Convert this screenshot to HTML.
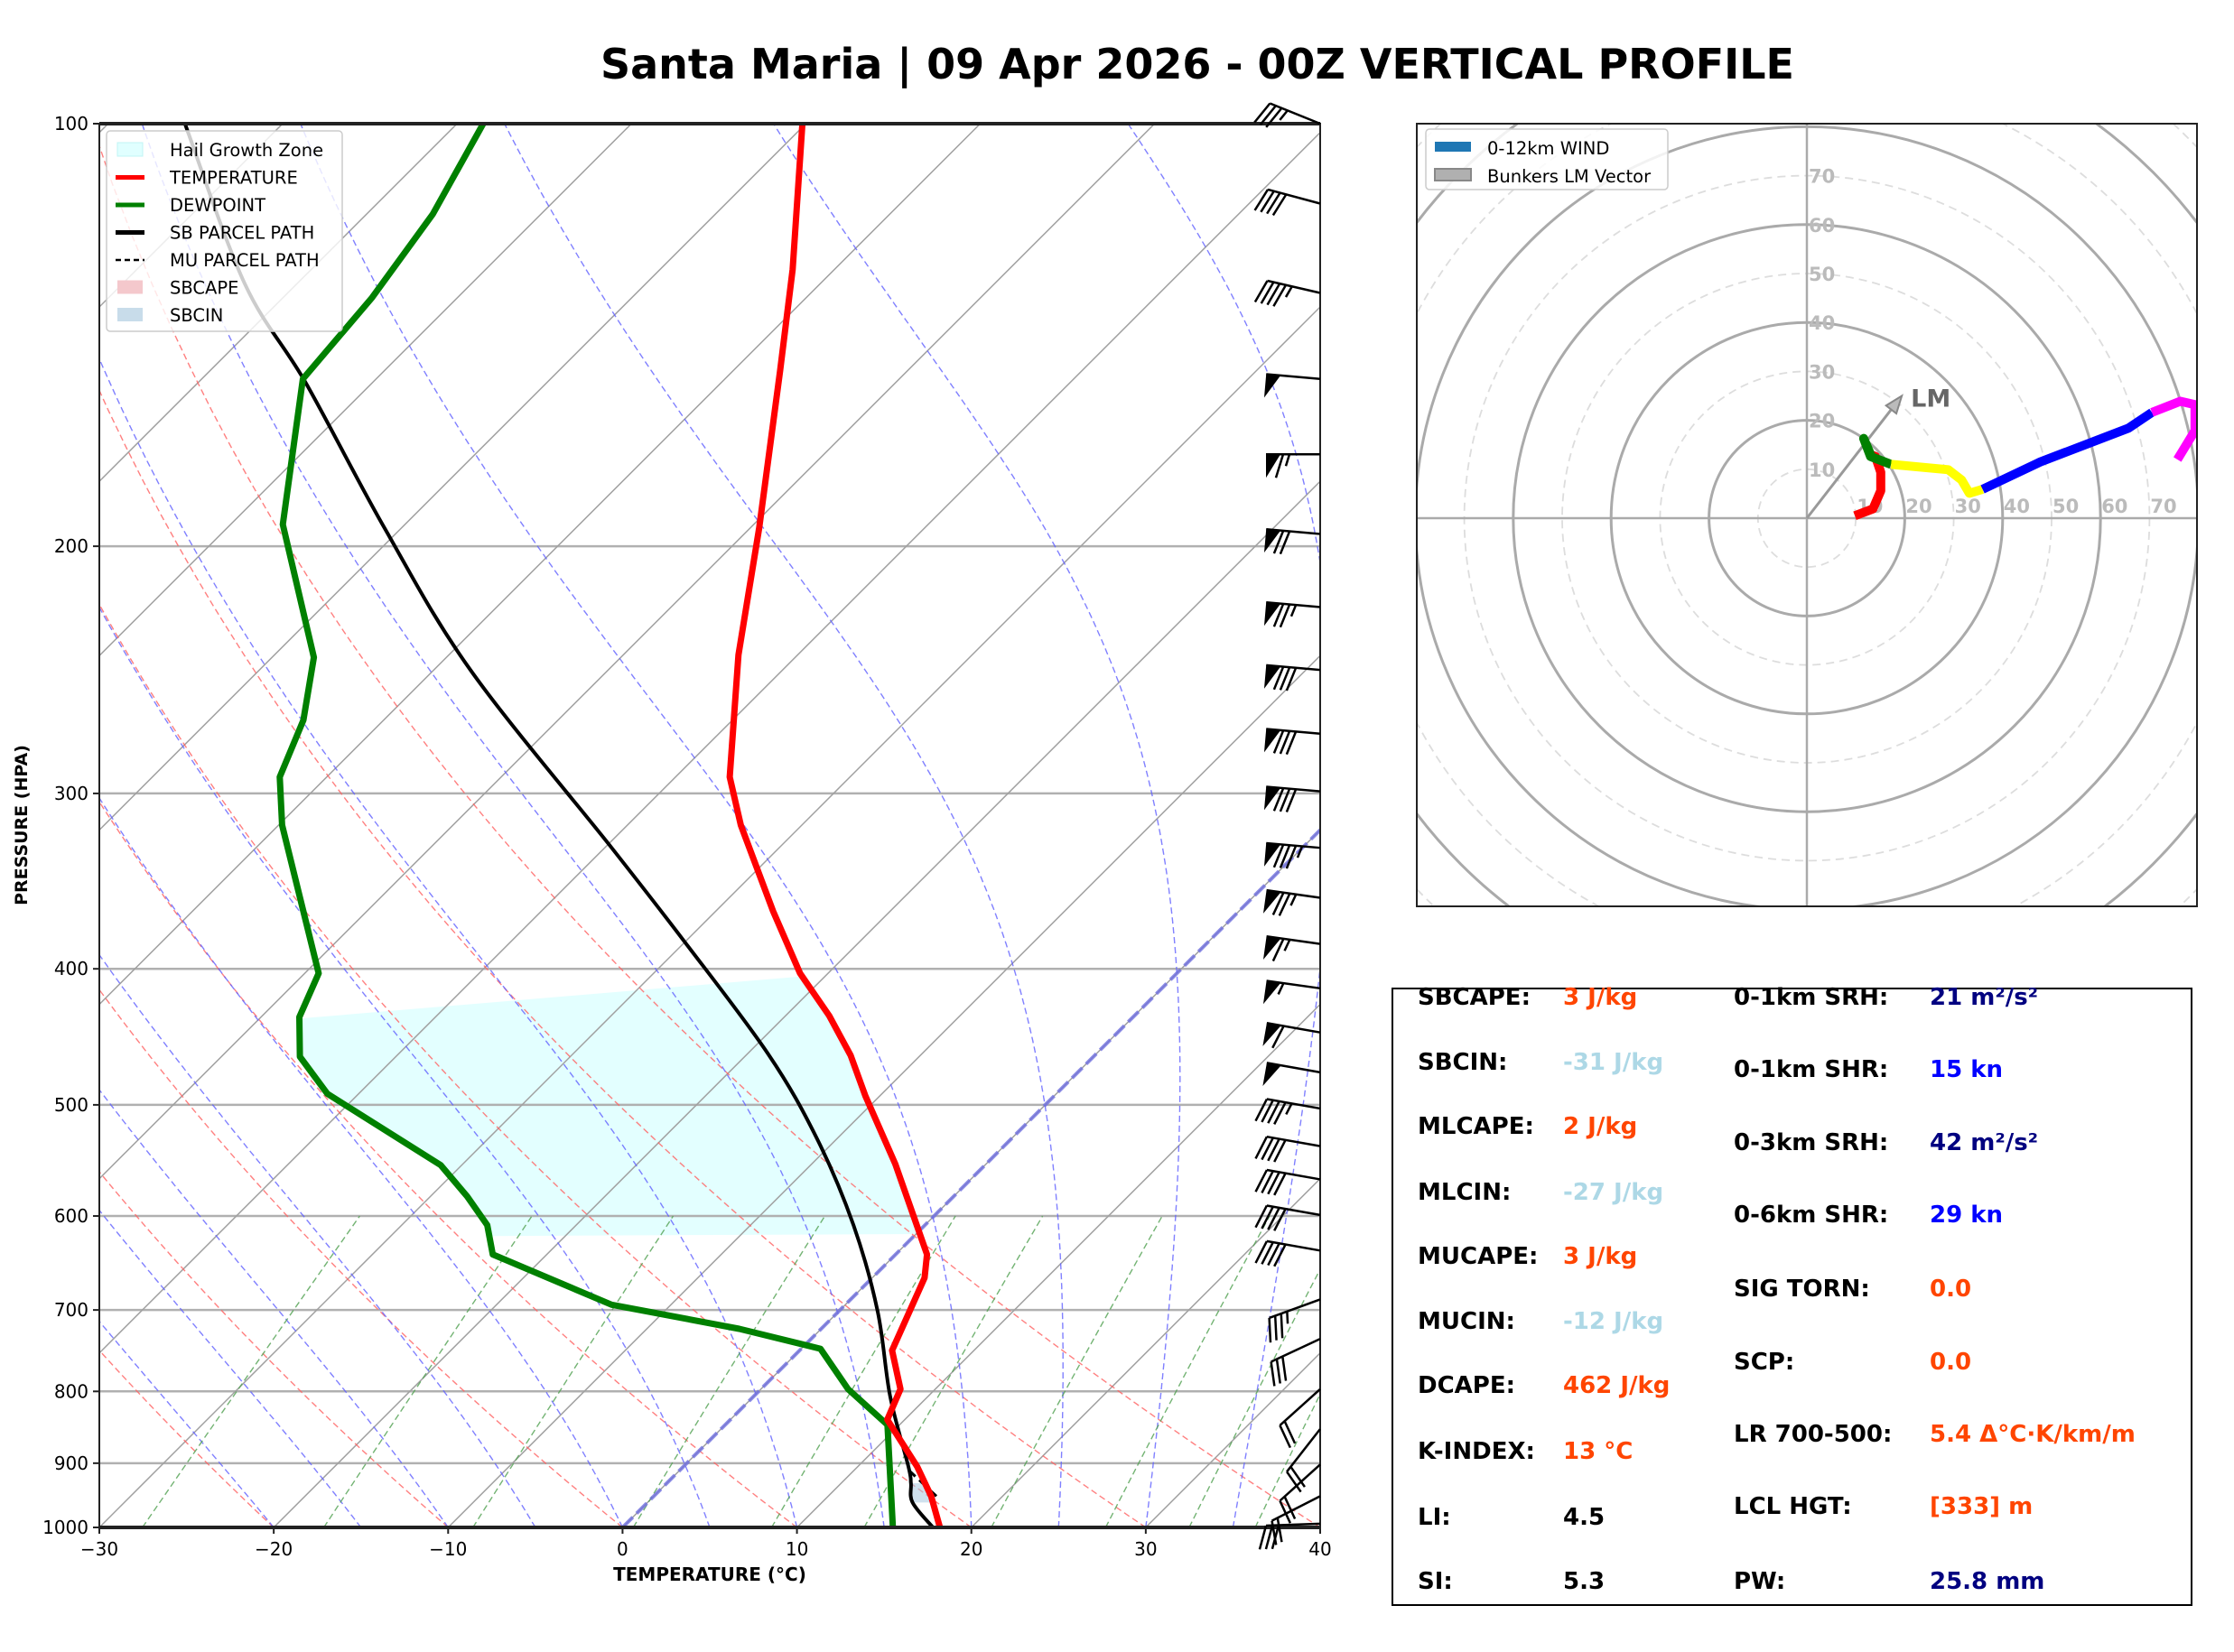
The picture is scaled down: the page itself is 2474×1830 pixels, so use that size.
<!DOCTYPE html>
<html><head><meta charset="utf-8">
<style>
html,body{margin:0;padding:0;background:#fff;}
svg{display:block;font-family:"DejaVu Sans","Liberation Sans",sans-serif;}
</style></head>
<body>
<svg id="root" width="2474" height="1830" viewBox="0 0 2474 1830" xmlns="http://www.w3.org/2000/svg">
<rect width="2474" height="1830" fill="#fff"/>
<defs>
<clipPath id="skclip"><rect x="110" y="137" width="1352" height="1555"/></clipPath>
<clipPath id="hclip"><rect x="1569" y="137" width="864" height="867"/></clipPath>
</defs>
<text x="1326" y="87" text-anchor="middle" font-size="46" font-weight="bold">Santa Maria | 09 Apr 2026 - 00Z VERTICAL PROFILE</text>
<g id="skew"></g>
<g id="hodo"></g>
<g id="stats"></g>
</svg>
<script>
// ---------- data ----------
const tempP = [1000,950,905,838,797,748,664,639,551,493,461,432,403,364,316,292,239,194,150,127,100];
const tempT = [18.2,15.9,13.4,9.0,8.0,5.3,3.0,1.8,-5.2,-10.8,-14.0,-17.5,-21.6,-26.7,-33.5,-36.9,-43.4,-49.5,-57.3,-62.4,-70.2];
const dewP = [1000,845,797,746,722,694,639,609,581,552,491,462,433,403,316,292,266,240,193,152,133,116,100];
const dewT = [15.5,9.3,5.0,1.1,-4.7,-13.4,-23.1,-25.1,-27.9,-31.2,-41.8,-45.5,-47.8,-49.2,-59.8,-62.7,-64.6,-67.6,-77.0,-84.2,-84.9,-86.2,-88.5];
const parcelP = [1000,960,930,905,806,701,609,529,460,381,328,245,194,153,130,100];
const parcelT = [17.8,15.2,14.0,12.9,7.8,2.2,-4.1,-11.1,-18.8,-30.3,-39.6,-57.9,-71.0,-83.8,-93.0,-105.6];
const muP = [950,905];
const muT = [16.2,12.7];
const cinP = [960,950,940,930];
const windP = [100,114,132,152,172,196,221,245,272,299,328,356,384,413,444,474,503,535,565,599,635,688,734,797,851,902,950,994];
const windSpd = [35,40,45,50,65,70,75,80,80,80,85,75,65,55,60,50,45,40,40,40,40,35,30,20,20,20,20,30];
const windDir = [292,285,283,275,270,275,275,275,275,275,275,278,278,278,280,280,280,280,280,280,280,250,245,228,218,228,243,268];
const isobars = [200,300,400,500,600,700,800,900];
const pTicks = [100,200,300,400,500,600,700,800,900,1000];
const tTicks = [-30,-20,-10,0,10,20,30,40];
const dryTheta = [-40,-30,-20,-10,0,10,20,30,40];
const moistT0 = [-20,-15,-10,-5,0,5,10,15,20,25,30,35];
const mixW = [0.4,1,2,4,7,10,16,24,32,40];
const hailTop = [405,433];
const hailBot = 620;
// hodograph
const hodoRedU=[9.8,13.5,15.1,15.1,14.0,13.0], hodoRedV=[0.5,1.9,5.6,9.4,12.6,13.0];
const hodoGreenU=[13.0,11.6,13.0,17.2], hodoGreenV=[13.0,16.3,12.6,11.0];
const hodoYellowU=[17.2,28.9,31.6,33.2,35.9], hodoYellowV=[11.0,9.9,7.8,5.1,5.9];
const hodoBlueU=[35.9,47.7,65.7,70.5], hodoBlueV=[5.9,11.5,18.4,21.6];
const hodoMagU=[70.5,76.3,79.3,79.3,75.7], hodoMagV=[21.6,23.9,23.2,17.9,12.0];
const lmU=19.4, lmV=25.0;

// ---------- helpers ----------
const NS="http://www.w3.org/2000/svg";
function mk(tag,attrs,parent){const e=document.createElementNS(NS,tag);for(const k in attrs)e.setAttribute(k,attrs[k]);parent.appendChild(e);return e;}
const L=110,R=1462,TOP=137,BOT=1692,XS=(R-L)/70;
function Y(p){return BOT-(BOT-TOP)*Math.log10(1000/p);}
function X(T,p){return L+XS*(T+30)+(BOT-Y(p));}
function pathFrom(ps,ts){return ps.map((p,i)=>(i?'L':'M')+X(ts[i],p).toFixed(1)+','+Y(p).toFixed(1)).join(' ');}
function smoothPath(ps,ts){const pts=ps.map((p,i)=>[X(ts[i],p),Y(p)]);let d='M'+pts[0][0].toFixed(1)+','+pts[0][1].toFixed(1);
for(let i=0;i<pts.length-1;i++){const p0=pts[Math.max(0,i-1)],p1=pts[i],p2=pts[i+1],p3=pts[Math.min(pts.length-1,i+2)];
const c1=[p1[0]+(p2[0]-p0[0])/6,p1[1]+(p2[1]-p0[1])/6],c2=[p2[0]-(p3[0]-p1[0])/6,p2[1]-(p3[1]-p1[1])/6];
d+=` C${c1[0].toFixed(1)},${c1[1].toFixed(1)} ${c2[0].toFixed(1)},${c2[1].toFixed(1)} ${p2[0].toFixed(1)},${p2[1].toFixed(1)}`;}return d;}

const sk=document.getElementById('skew');
const clipG=mk('g',{'clip-path':'url(#skclip)'},sk);



isobars.forEach(p=>{const l=mk('line',{x1:L,x2:R,y1:Y(p),y2:Y(p),stroke:'#b0b0b0','stroke-width':2.5},clipG);

});
for(let T=-160;T<=40;T+=10){const l=mk('line',{x1:X(T,1000),y1:BOT,x2:X(T,100),y2:TOP,stroke:'#a0a0a0','stroke-width':1.5},clipG);

}
dryTheta.forEach(th=>{const ps=[],ts=[];for(let p=1000;p>=100;p-=10){ps.push(p);ts.push((th+273.15)*Math.pow(p/1000,0.2857)-273.15);}
const e=mk('path',{d:pathFrom(ps,ts),fill:'none',stroke:'#ff6060','stroke-width':1.4,'stroke-dasharray':'7,4',opacity:0.8},clipG);

});
function es(Tc){return 6.112*Math.exp(17.67*Tc/(Tc+243.5));}
moistT0.forEach(t0=>{let T=t0+273.15;const ps=[1000],ts=[t0];
for(let p=1000;p>100;p-=2){const e_=es(T-273.15);const rs=0.622*e_/(p-e_);
const d=(287*T+2.5e6*rs)/(p*(1004+2.5e6*2.5e6*rs*0.622/(287*T*T)));T-=d*2;ps.push(p-2);ts.push(T-273.15);}
const e=mk('path',{d:pathFrom(ps,ts),fill:'none',stroke:'#6060ff','stroke-width':1.4,'stroke-dasharray':'7,4',opacity:0.8},clipG);

});
mixW.forEach(w=>{const ps=[],ts=[];for(let p=1000;p>=600;p-=20){const e_=(w/1000)*p/(0.622+w/1000);const a=Math.log(e_/6.112);ps.push(p);ts.push(243.5*a/(17.67-a));}
const e=mk('path',{d:pathFrom(ps,ts),fill:'none',stroke:'#50a050','stroke-width':1.4,'stroke-dasharray':'7,4',opacity:0.8},clipG);

});
(function(){const e=mk('line',{x1:X(0,1000),y1:BOT,x2:X(0,100),y2:TOP,stroke:'#7070e0','stroke-width':4,'stroke-dasharray':'16,6',opacity:0.8},clipG);

})();

function interp(ps,ts,p){for(let i=0;i<ps.length-1;i++){if(p<=ps[i]&&p>=ps[i+1]){const f=Math.log(ps[i]/p)/Math.log(ps[i]/ps[i+1]);return ts[i]+f*(ts[i+1]-ts[i]);}}return ts[ts.length-1];}
(function(){let pts=[];
for(let p=hailBot;p>=hailTop[1];p-=3)pts.push([X(interp(dewP,dewT,p),p),Y(p)]);
pts.push([X(interp(tempP,tempT,hailTop[0]),hailTop[0]),Y(hailTop[0])]);
for(let p=hailTop[0];p<=hailBot;p+=3)pts.push([X(interp(tempP,tempT,p),p),Y(p)]);
const e=mk('polygon',{points:pts.map(q=>q[0].toFixed(1)+','+q[1].toFixed(1)).join(' '),fill:'#e0ffff',opacity:0.9},clipG);


clipG.insertBefore(e,clipG.firstChild);})();
(function(){
const a=cinP.map(p=>[X(interp(parcelP,parcelT,p),p),Y(p)]);
const b=cinP.slice().reverse().map(p=>[X(interp(tempP,tempT,p),p),Y(p)]);
const all=a.concat(b);
const e=mk('polygon',{points:all.map(q=>q[0].toFixed(1)+','+q[1].toFixed(1)).join(' '),fill:'#a8c8e0',opacity:0.55},clipG);

})();

function curve(ps,ts,color,w,name,dash,smooth){const e=mk('path',{d:smooth?smoothPath(ps,ts):pathFrom(ps,ts),fill:'none',stroke:color,'stroke-width':w,'stroke-linejoin':'round'},clipG);
if(dash)e.setAttribute('stroke-dasharray',dash);

}
curve(parcelP,parcelT,'#000',4,'sb-parcel-path',null,true);
curve(muP,muT,'#000',3,'mu-parcel-path','10,6');
curve(dewP,dewT,'#008000',7,'dewpoint-line');
curve(tempP,tempT,'#ff0000',7,'temperature-line');

(function(){const e=mk('rect',{x:L,y:TOP,width:R-L,height:BOT-TOP,fill:'none',stroke:'#222','stroke-width':2},sk);


mk('line',{x1:L,x2:R,y1:TOP,y2:TOP,stroke:'#222','stroke-width':4},sk);
mk('line',{x1:L,x2:R,y1:BOT,y2:BOT,stroke:'#222','stroke-width':4},sk);})();
pTicks.forEach(p=>{mk('line',{x1:L-7,x2:L,y1:Y(p),y2:Y(p),stroke:'#222','stroke-width':2},sk);
const t=mk('text',{x:L-12,y:Y(p)+7,'text-anchor':'end','font-size':20},sk);t.textContent=p;

});
tTicks.forEach(T=>{const x=L+XS*(T+30);mk('line',{x1:x,x2:x,y1:BOT,y2:BOT+7,stroke:'#222','stroke-width':2},sk);
const t=mk('text',{x:x,y:BOT+31,'text-anchor':'middle','font-size':20},sk);t.textContent=(T<0?'\u2212'+(-T):T);

});
(function(){let t=mk('text',{x:786,y:1751,'text-anchor':'middle','font-size':20,'font-weight':'bold'},sk);t.textContent='TEMPERATURE (°C)';


t=mk('text',{x:0,y:0,'text-anchor':'middle','font-size':19,'font-weight':'bold',transform:'translate(30,914) rotate(-90)'},sk);t.textContent='PRESSURE (HPA)';

})();

// wind barbs
windP.forEach((p,i)=>{const g=mk('g',{},sk);


const bx=R,by=Y(p),len=60;const a=windDir[i]*Math.PI/180;
const ux=Math.sin(a),uy=-Math.cos(a);
const tx=bx+ux*len,ty=by+uy*len;
mk('line',{x1:bx,y1:by,x2:tx,y2:ty,stroke:'#000','stroke-width':2.5},g);
let fxs=-uy,fys=ux; if(fys<0){fxs=uy;fys=-ux;}
let s=windSpd[i];let pos=0;const fl=26;
while(s>=50){const p1x=tx-ux*pos,p1y=ty-uy*pos,p2x=tx-ux*(pos+16),p2y=ty-uy*(pos+16);
mk('polygon',{points:`${p1x},${p1y} ${p2x},${p2y} ${p1x+fxs*fl},${p1y+fys*fl}`,fill:'#000'},g);pos+=19;s-=50;}
while(s>=10){const p1x=tx-ux*pos,p1y=ty-uy*pos;mk('line',{x1:p1x,y1:p1y,x2:p1x+fxs*fl+ux*8,y2:p1y+fys*fl+uy*8,stroke:'#000','stroke-width':2.5},g);pos+=7;s-=10;}
if(s>=5){const p1x=tx-ux*pos,p1y=ty-uy*pos;mk('line',{x1:p1x,y1:p1y,x2:p1x+fxs*fl*0.5+ux*4,y2:p1y+fys*fl*0.5+uy*4,stroke:'#000','stroke-width':2.5},g);}
});

// legend
(function(){const g=mk('g',{},sk);


mk('rect',{x:118,y:145,width:261,height:222,rx:4,fill:'#fff','fill-opacity':0.8,stroke:'#ccc','stroke-width':1.5},g);
const items=[['Hail Growth Zone','fill','#e0ffff'],['TEMPERATURE','line','#ff0000'],['DEWPOINT','line','#008000'],['SB PARCEL PATH','line','#000'],['MU PARCEL PATH','dash','#000'],['SBCAPE','fill','#f4c8cc'],['SBCIN','fill','#c8dcea']];
items.forEach((it,i)=>{const y=166+i*30.5;const e=mk('g',{},g);


if(it[1]==='fill')mk('rect',{x:130,y:y-8,width:28,height:15,fill:it[2],stroke:it[2]==='#e0ffff'?'#c0f4f4':'none'},e);
else if(it[1]==='line')mk('line',{x1:128,x2:160,y1:y,y2:y,stroke:it[2],'stroke-width':5},e);
else mk('line',{x1:128,x2:160,y1:y,y2:y,stroke:it[2],'stroke-width':2.5,'stroke-dasharray':'6,4'},e);
const t=mk('text',{x:188,y:y+7,'font-size':19.5},e);t.textContent=it[0];});})();

// ---------- hodograph ----------
const hd=document.getElementById('hodo');
const HX=2001,HY=574,HS=5.42;
function hx(u){return HX+u*HS;} function hy(v){return HY-v*HS;}
const hc=mk('g',{'clip-path':'url(#hclip)'},hd);
for(let r=10;r<=130;r+=10){const solid=(r%20===0);const c=mk('circle',{cx:HX,cy:HY,r:r*HS,fill:'none',stroke:solid?'#aaa':'#ddd','stroke-width':solid?3:1.8},hc);
if(!solid)c.setAttribute('stroke-dasharray','9,6');

}
mk('line',{x1:1569,x2:2433,y1:HY,y2:HY,stroke:'#aaa','stroke-width':2.5},hc);
mk('line',{x1:HX,x2:HX,y1:137,y2:1004,stroke:'#aaa','stroke-width':2.5},hc);
for(let r=10;r<=70;r+=10){let t=mk('text',{x:hx(r)+1,y:HY-6,'font-size':21,'font-weight':'bold',fill:'#bbb'},hc);t.textContent=r;


t=mk('text',{x:HX+2,y:hy(r)+8,'font-size':21,'font-weight':'bold',fill:'#bbb'},hc);t.textContent=r;

}
(function(){const g=mk('g',{},hc);


const ex=hx(lmU),ey=hy(lmV);const ang=Math.atan2(ey-HY,ex-HX);
mk('line',{x1:HX,y1:HY,x2:ex-Math.cos(ang)*10,y2:ey-Math.sin(ang)*10,stroke:'#999','stroke-width':3},g);
const s=12;mk('polygon',{points:`${ex},${ey} ${ex-Math.cos(ang)*s*1.6+Math.sin(ang)*s*0.6},${ey-Math.sin(ang)*s*1.6-Math.cos(ang)*s*0.6} ${ex-Math.cos(ang)*s*1.6-Math.sin(ang)*s*0.6},${ey-Math.sin(ang)*s*1.6+Math.cos(ang)*s*0.6}`,fill:'#bbb',stroke:'#888','stroke-width':2},g);
const t=mk('text',{x:ex+10,y:ey+12,'font-size':27,'font-weight':'bold',fill:'#666'},g);t.textContent='LM';})();
function hline(us,vs,col,name){const e=mk('path',{d:us.map((u,i)=>(i?'L':'M')+hx(u).toFixed(1)+','+hy(vs[i]).toFixed(1)).join(' '),fill:'none',stroke:col,'stroke-width':10,'stroke-linejoin':'round'},hc);

}
hline(hodoRedU,hodoRedV,'#ff0000','hodograph-0-1km');
hline(hodoGreenU,hodoGreenV,'#008000','hodograph-1-3km');
hline(hodoYellowU,hodoYellowV,'#ffff00','hodograph-3-6km');
hline(hodoBlueU,hodoBlueV,'#0000ff','hodograph-6-9km');
hline(hodoMagU,hodoMagV,'#ff00ff','hodograph-9-12km');
mk('rect',{x:1569,y:137,width:864,height:867,fill:'none',stroke:'#222','stroke-width':2},hd);
(function(){const g=mk('g',{},hd);


mk('rect',{x:1579,y:143,width:268,height:67,rx:4,fill:'#fff','fill-opacity':0.85,stroke:'#ccc','stroke-width':1.5},g);
mk('rect',{x:1589,y:157,width:40,height:11,fill:'#1f77b4'},g);
let t=mk('text',{x:1647,y:171,'font-size':19.5},g);t.textContent='0-12km WIND';
mk('rect',{x:1589,y:187,width:40,height:13,fill:'#b0b0b0',stroke:'#888','stroke-width':2},g);
t=mk('text',{x:1647,y:202,'font-size':19.5},g);t.textContent='Bunkers LM Vector';})();

// ---------- stats ----------
const st=document.getElementById('stats');
mk('rect',{x:1542,y:1095,width:885,height:683,fill:'#fff',stroke:'#000','stroke-width':2},st);
const col1=[['SBCAPE:','3 J/kg','#ff4500'],['SBCIN:','-31 J/kg','#add8e6'],['MLCAPE:','2 J/kg','#ff4500'],['MLCIN:','-27 J/kg','#add8e6'],['MUCAPE:','3 J/kg','#ff4500'],['MUCIN:','-12 J/kg','#add8e6'],['DCAPE:','462 J/kg','#ff4500'],['K-INDEX:','13 °C','#ff4500'],['LI:','4.5','#000'],['SI:','5.3','#000']];
const col1Y=[1103,1175,1246,1319,1390,1462,1533,1606,1679,1750];
const col2=[['0-1km SRH:','21 m²/s²','#000080'],['0-1km SHR:','15 kn','#0000ff'],['0-3km SRH:','42 m²/s²','#000080'],['0-6km SHR:','29 kn','#0000ff'],['SIG TORN:','0.0','#ff4500'],['SCP:','0.0','#ff4500'],['LR 700-500:','5.4 Δ°C·K/km/m','#ff4500'],['LCL HGT:','[333] m','#ff4500'],['PW:','25.8 mm','#000080']];
const col2Y=[1103,1183,1264,1344,1426,1507,1587,1667,1750];
function row(item,y,lx,vx){const g=mk('g',{},st);


let t=mk('text',{x:lx,y:y+10,'font-size':26,'font-weight':'bold',fill:'#000'},g);t.textContent=item[0];
t=mk('text',{x:vx,y:y+10,'font-size':26,'font-weight':'bold',fill:item[2]},g);t.textContent=item[1];}
col1.forEach((it,i)=>row(it,col1Y[i],1570,1731));
col2.forEach((it,i)=>row(it,col2Y[i],1920,2137));
</script>
</body></html>
